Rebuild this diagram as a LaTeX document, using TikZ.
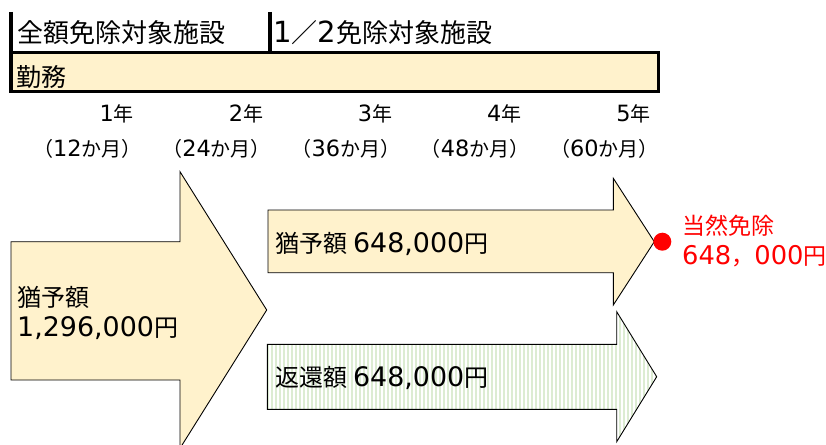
\documentclass[tikz,border=0pt]{standalone}
\usepackage{fontspec}
\setmainfont{Noto Sans CJK JP}
\newfontfamily\digitfont[Scale=1.12]{DejaVu Sans}
\newcommand{\dgt}[1]{{\digitfont #1}}
\definecolor{cream}{RGB}{255,242,204}
\definecolor{stripegreen}{RGB}{220,236,210}

\begin{document}
\begin{tikzpicture}[x=1pt, y=-1pt,
		heavy/.style={line width=3.5pt},
		arrowbody/.style={draw, line width=0.9pt, fill=cream},
		stripebody/.style={draw, line width=0.9pt, fill=white, path picture={
			\foreach \s in {0,4,...,420}
				\fill[stripegreen] ([xshift=\s pt]path picture bounding box.south west) rectangle ++(2,-200);}},
		headtext/.style={inner sep=0pt, anchor=base west, font=\fontsize{26}{30}\selectfont},
		bodytext/.style={inner sep=0pt, anchor=base west, align=left, font=\fontsize{24}{30}\selectfont},
		yeartext/.style={inner sep=0pt, anchor=base east, font=\fontsize{20}{24}\selectfont},
		monthtext/.style={inner sep=0pt, anchor=base, font=\fontsize{20}{24}\selectfont},
		redtext/.style={inner sep=0pt, anchor=base west, text=red, font=\fontsize{23}{28}\selectfont}
	]
	\useasboundingbox (0,0) rectangle (826,444);

	% header
	\draw[heavy] (11,12) -- (11,52);
	\draw[heavy] (270,12) -- (270,52);
	\node[headtext] (full) at (17,42.5) {全額免除対象施設};
	\node[headtext] (half) at (273,42.5) {\dgt{1}／\dgt{2}免除対象施設};
	\draw[heavy, fill=cream] (11,52.3) rectangle (658.3,91.7);
	\node[headtext, font=\fontsize{25}{30}\selectfont] (work) at (16,86) {勤務};

	% years
	\foreach \i/\m in {1/12, 2/24, 3/36, 4/48, 5/60} {
		\node[yeartext] (y\i) at ({134+129.2*(\i-1)},121.5) {\dgt{\i}年};
		\node[monthtext] (m\i) at ({87.5+129.2*(\i-1)},156.5) {（\dgt{\m}か月）};
	}

	% arrows
	\draw[arrowbody] (11,241.7) -- (180,241.7) -- (180,171.7) -- (266.7,310)
		-- (180,448.3) -- (180,380) -- (11,380) -- cycle;
	\draw[arrowbody] (268,210) -- (613.3,210) -- (613.3,178.3) -- (654.3,241.7)
		-- (613.3,305) -- (613.3,272.7) -- (268,272.7) -- cycle;
	\draw[stripebody] (267.3,344.3) -- (616.7,344.3) -- (616.7,311.7) -- (656.7,376.7)
		-- (616.7,441.7) -- (616.7,409.3) -- (267.3,409.3) -- cycle;

	\node[bodytext] (total) at (17,336) {猶予額\\\dgt{1,296,000}円};
	\node[bodytext] (defer) at (275.5,252) {猶予額 \dgt{648,000}円};
	\node[bodytext] (repay) at (275.5,386) {返還額 \dgt{648,000}円};

	% exemption
	\node[circle, fill=red, inner sep=0pt, minimum size=18pt] (dot) at (662.3,241.7) {};
	\node[redtext] (exempt) at (682,234.7) {当然免除};
	\node[redtext] (amount) at (682,264) {\dgt{648}，\dgt{000}円};

\end{tikzpicture}
\end{document}
